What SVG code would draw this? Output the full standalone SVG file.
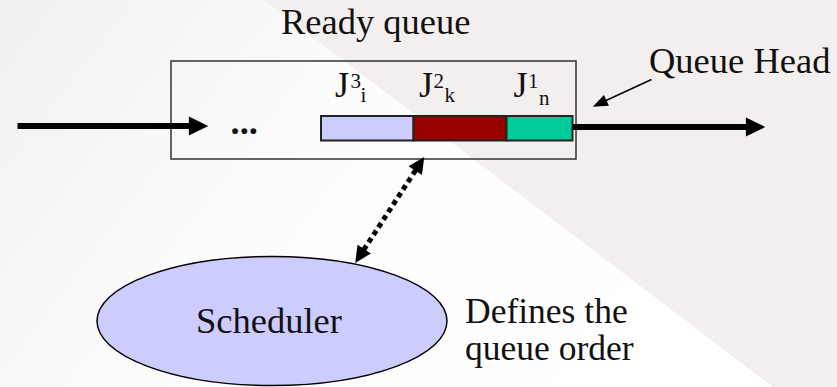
<svg xmlns="http://www.w3.org/2000/svg" width="837" height="387" viewBox="0 0 837 387">
  <style>
    text { font-family: "Liberation Serif", "Times New Roman", serif; fill: #111; }
    .big { font-size: 36.5px; }
    .note { font-size: 35.5px; }
    .job { font-size: 36px; }
    .idx { font-size: 21px; }
    .frame { fill: none; stroke: #333; stroke-width: 1.5; }
    .slot { stroke: #222; stroke-width: 2; }
    .flow { stroke: #000; stroke-width: 6; fill: none; }
    .pointer { stroke: #000; stroke-width: 1.5; fill: none; }
    .dotted { stroke: #000; stroke-width: 5; stroke-dasharray: 5 4; fill: none; }
  </style>
  <defs>
    <linearGradient id="bgShade" x1="0" y1="0" x2="1" y2="0.35">
      <stop offset="0" stop-color="#f1f0f0"/>
      <stop offset="0.45" stop-color="#fcfcfc"/>
      <stop offset="1" stop-color="#ffffff"/>
    </linearGradient>
    <marker id="headBig" markerUnits="userSpaceOnUse" markerWidth="20" markerHeight="20" refX="1" refY="0" viewBox="0 -9 18 18" orient="auto" overflow="visible">
      <path d="M0,-8.5 L17.5,0 L0,8.5 Z" fill="#000"/>
    </marker>
    <marker id="headDot" markerUnits="userSpaceOnUse" markerWidth="18" markerHeight="18" refX="1" refY="0" viewBox="0 -9 17 18" orient="auto-start-reverse" overflow="visible">
      <path d="M0,-8 L16.5,0 L0,8 Z" fill="#000"/>
    </marker>
    <marker id="headThin" markerUnits="userSpaceOnUse" markerWidth="16" markerHeight="14" refX="1" refY="0" viewBox="0 -7 16 14" orient="auto" overflow="visible">
      <path d="M0,-6 L15,0 L0,6 Z" fill="#000"/>
    </marker>
  </defs>

  <!-- slide backdrop -->
  <rect x="0" y="0" width="837" height="387" fill="url(#bgShade)"/>
  <polygon points="264,0 837,0 837,387 773,387" fill="#f3efef"/>

  <!-- ready queue container -->
  <g id="ready-queue">
    <text class="big" x="281" y="34">Ready queue</text>
    <rect class="frame" x="171" y="61" width="405" height="98"/>
    <text class="big" x="230.5" y="133.5" font-weight="bold">...</text>
    <rect class="slot" x="321" y="116" width="92.5" height="24.5" fill="#ccccff"/>
    <rect class="slot" x="413.5" y="116" width="93" height="24.5" fill="#990000"/>
    <rect class="slot" x="506.5" y="116" width="66" height="24.5" fill="#00cc99"/>
    <g id="job-i">
      <text class="job" x="335" y="97">J</text>
      <text class="idx" x="350.5" y="87.5">3</text>
      <text class="idx" x="360.5" y="101.5">i</text>
    </g>
    <g id="job-k">
      <text class="job" x="419" y="97">J</text>
      <text class="idx" x="433.5" y="87.5">2</text>
      <text class="idx" x="444.5" y="101.5">k</text>
    </g>
    <g id="job-n">
      <text class="job" x="513.5" y="97">J</text>
      <text class="idx" x="528" y="87.5">1</text>
      <text class="idx" x="539" y="105">n</text>
    </g>
  </g>

  <g id="queue-head">
    <text class="big" x="649" y="73">Queue Head</text>
  </g>

  <g id="scheduler">
    <ellipse cx="272" cy="321" rx="175" ry="64.5" fill="#ccccff" stroke="#000" stroke-width="1.5"/>
    <text class="big" x="269" y="333" text-anchor="middle">Scheduler</text>
  </g>

  <g id="order-note">
    <text class="note" x="465" y="322.5">Defines the</text>
    <text class="note" x="465" y="360">queue order</text>
  </g>

  <!-- connectors -->
  <g id="connectors">
    <path class="flow" d="M17.5,126 L190,126" marker-end="url(#headBig)"/>
    <path class="flow" d="M572.5,127 L747,127" marker-end="url(#headBig)"/>
    <path class="pointer" d="M651.5,79.5 L605.5,100.8" marker-end="url(#headThin)"/>
    <path class="dotted" d="M363.7,249.9 L415.8,169.9" marker-start="url(#headDot)" marker-end="url(#headDot)"/>
  </g>
</svg>
